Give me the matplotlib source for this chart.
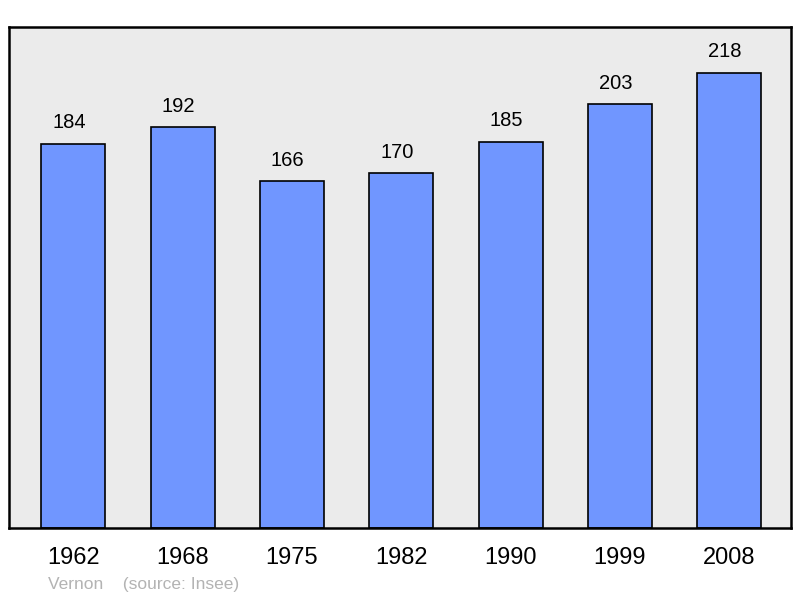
import matplotlib.pyplot as plt

years = ["1962", "1968", "1975", "1982", "1990", "1999", "2008"]
population = [184, 192, 166, 170, 185, 203, 218]

plt.rcParams["font.family"] = ["Liberation Sans", "DejaVu Sans"]

fig = plt.figure(figsize=(8, 5.98), dpi=100)
ax = fig.add_axes([9 / 800, 70 / 598, 782 / 800, 501 / 598])
ax.set_facecolor("#ebebeb")

x = list(range(len(years)))
ax.bar(x, population, width=0.585, color="#7096ff", edgecolor="black", linewidth=1.2, zorder=2)

for xi, v in zip(x, population):
    ax.text(xi - 0.04, v + 5.5, str(v), ha="center", va="bottom", fontsize=14.5)

ax.set_xlim(-0.588, 6.565)
ax.set_ylim(0, 240)
ax.set_yticks([])
ax.set_xticks(x)
ax.set_xticklabels(years, fontsize=17)
ax.tick_params(axis="x", length=0, pad=14)
for s in ax.spines.values():
    s.set_linewidth(1.8)
    s.set_color("black")

fig.text(48 / 800, 1 - 585 / 598, "Vernon    (source: Insee)", fontsize=12.5,
         color="#b3b3b3", va="center", ha="left")

fig.savefig("out.png", dpi=100)
